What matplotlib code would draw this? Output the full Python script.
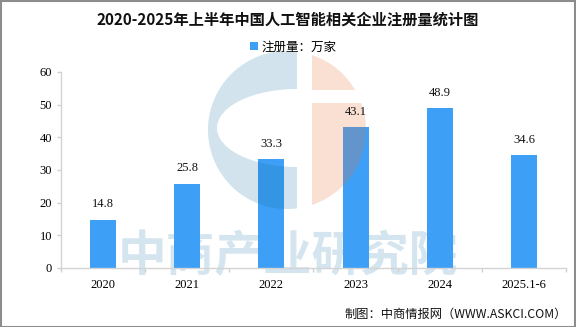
import numpy as np
import matplotlib
matplotlib.use("Agg")
import matplotlib.pyplot as plt
from matplotlib.patches import Polygon, Rectangle
from matplotlib.transforms import Affine2D

# Data
categories = ["2020", "2021", "2022", "2023", "2024", "2025.1-6"]
registrations = [14.8, 25.8, 33.3, 43.1, 48.9, 34.6]
y_ticks = [0, 10, 20, 30, 40, 50, 60]

title = "2020-2025年上半年中国人工智能相关企业注册量统计图"
series_label = "注册量：万家"
source_note = "制图：中商情报网（WWW.ASKCI.COM）"
brand_text = "中商产业研究院"

CJK = ["Noto Sans CJK SC", "DejaVu Sans"]
NUM = ["Liberation Serif", "DejaVu Serif"]
plt.rcParams["font.family"] = CJK

W, H = 576, 327
fig = plt.figure(figsize=(W / 100, H / 100), dpi=100, facecolor="white")

# pixel coordinates (origin top-left) -> figure
pix = Affine2D().scale(1 / W, -1 / H).translate(0, 1) + fig.transFigure

ax = fig.add_axes([61 / W, 1 - 268 / H, 505 / W, 196 / H])
x = np.arange(len(categories))
bar_color = "#3d9ff5"
bars = ax.bar(x, registrations, width=0.31, color=bar_color, zorder=2,
              label=series_label)

ax.set_xlim(-0.5, len(categories) - 0.5)
ax.set_ylim(0, 60)
ax.set_yticks(y_ticks)
ax.set_yticklabels([str(v) for v in y_ticks], family=NUM, fontsize=9)
ax.set_xticks(x)
ax.set_xticklabels(categories, family=NUM, fontsize=9)
ax.set_xticks(np.arange(len(categories) + 1) - 0.5, minor=True)
ax.tick_params(axis="x", which="major", length=0, pad=8)
ax.tick_params(axis="x", which="minor", length=3, color="#d0d0d0", width=1)
ax.tick_params(axis="y", length=3, color="#d0d0d0", width=1, pad=3.5)
for side in ("top", "right"):
    ax.spines[side].set_visible(False)
for side in ("left", "bottom"):
    ax.spines[side].set_color("#d4d4d4")
    ax.spines[side].set_linewidth(1)

# value labels
for xi, v in zip(x, registrations):
    ax.annotate(f"{v:.1f}", (xi, v), xytext=(0, 11), textcoords="offset points",
                ha="center", va="center", family=NUM, fontsize=9,
                color="#111111", zorder=5)

# brand text behind the bars
ax.text(287.5, 257, brand_text, transform=pix, ha="center", va="center",
        fontsize=35, fontweight="bold", color="#d4e5ef", zorder=0.5,
        clip_on=False)

# circular brand mark drawn over the bars
cx, cy, r = 287.0, 130.0, 79.0
t_top = np.degrees(np.arctan2(-np.sqrt(r**2 - 10**2), 10))
th = np.radians(np.linspace(360 + t_top, -t_top, 80))
outer = np.c_[cx + r * np.cos(th), cy + r * np.sin(th)]
ti = np.radians(np.linspace(90, 270, 60))
inner = np.c_[297 + 80 * np.cos(ti), 128 + 39 * np.sin(ti)]
ring = np.vstack([outer, inner])
ax.add_patch(Polygon(ring, closed=True, transform=pix, facecolor="#126ca0",
                     edgecolor="none", alpha=0.19, zorder=3, clip_on=False))

a1 = -np.arccos(25 / r)
a2 = np.arcsin(-40 / r)
ta = np.linspace(a1, a2, 40)
top_piece = np.vstack([np.c_[cx + r * np.cos(ta), cy + r * np.sin(ta)],
                       [[312, 90]]])
a3 = np.arcsin(-27 / r)
a4 = np.arccos(25 / r)
tb = np.linspace(a3, a4, 60)
bottom_piece = np.vstack([np.c_[cx + r * np.cos(tb), cy + r * np.sin(tb)],
                          [[312, 103]]])
for piece in (top_piece, bottom_piece):
    ax.add_patch(Polygon(piece, closed=True, transform=pix,
                         facecolor="#ec723b", edgecolor="none", alpha=0.22,
                         zorder=3, clip_on=False))

# title, legend, source
fig.text(288 / W, 1 - 20 / H, title, ha="center", va="center",
         fontsize=11, fontweight="bold", color="#111111")
leg = fig.legend(handles=[bars], labels=[series_label], loc="center",
                 bbox_to_anchor=(293 / W, 1 - 47 / H), frameon=False,
                 handlelength=0.65, handleheight=0.65, handletextpad=0.3,
                 prop={"family": CJK, "size": 9})
fig.text(567 / W, 1 - 314 / H, source_note, ha="right", va="center",
         fontsize=8.8, color="#111111")

# outer frame
fig.add_artist(Rectangle((0.5 / W, 0.5 / H), 1 - 1.5 / W, 1 - 1.5 / H,
                         transform=fig.transFigure, fill=False,
                         edgecolor="#8c8c8c", linewidth=1.5))

fig.savefig("out.png", dpi=100, facecolor="white")
